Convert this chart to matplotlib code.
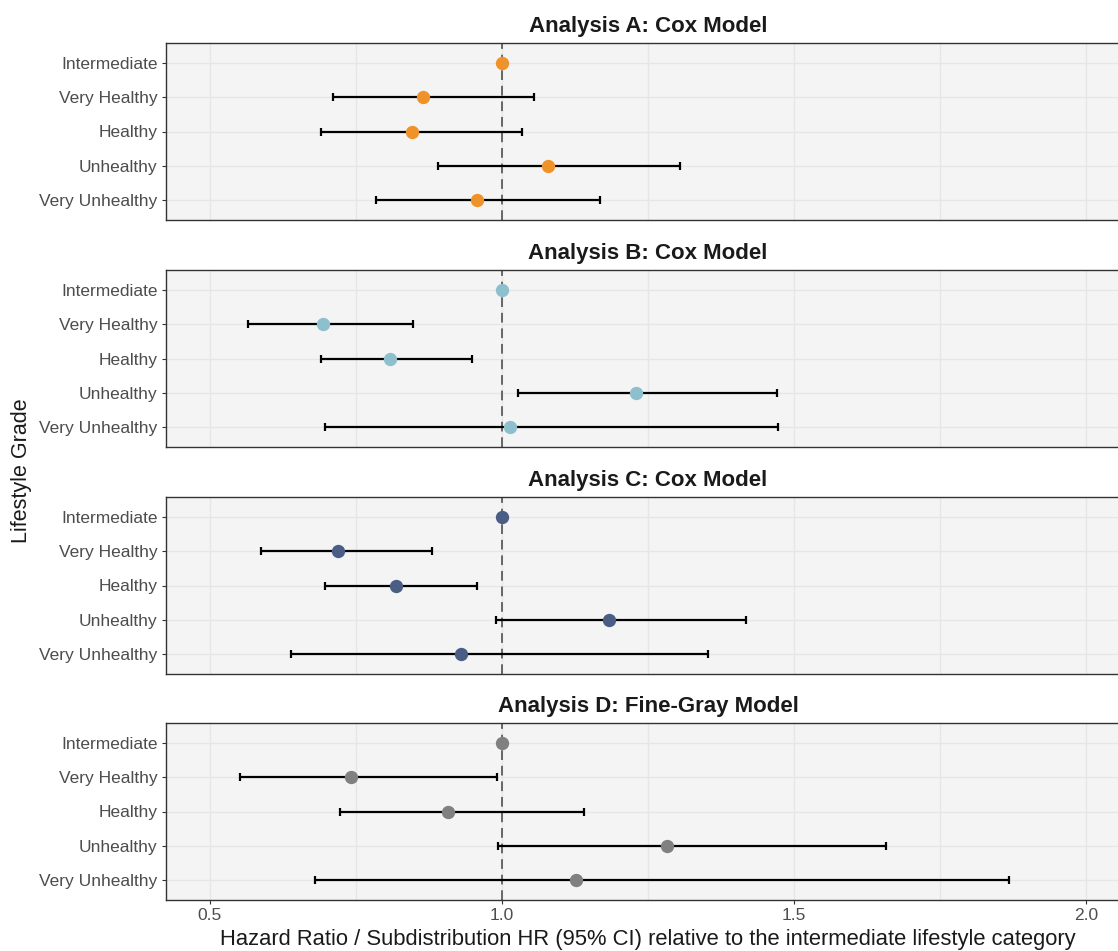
"""Forest plot of lifestyle-grade hazard ratios across four analyses."""
import numpy as np
import matplotlib
matplotlib.use("Agg")
import matplotlib.pyplot as plt

plt.rcParams["font.family"] = ["Liberation Sans", "DejaVu Sans"]

# --- Data ---
CATEGORIES = ["Intermediate", "Very Healthy", "Healthy", "Unhealthy", "Very Unhealthy"]

PANEL_TITLES = [
    "Analysis A: Cox Model",
    "Analysis B: Cox Model",
    "Analysis C: Cox Model",
    "Analysis D: Fine-Gray Model",
]

hr_a = [1.0, 0.865, 0.846, 1.078, 0.957]
lo_a = [np.nan, 0.710, 0.691, 0.891, 0.785]
hi_a = [np.nan, 1.055, 1.035, 1.304, 1.168]

hr_b = [1.0, 0.693, 0.809, 1.229, 1.013]
lo_b = [np.nan, 0.566, 0.690, 1.027, 0.697]
hi_b = [np.nan, 0.847, 0.948, 1.471, 1.473]

hr_c = [1.0, 0.719, 0.818, 1.184, 0.930]
lo_c = [np.nan, 0.588, 0.698, 0.990, 0.639]
hi_c = [np.nan, 0.880, 0.958, 1.417, 1.352]

hr_d = [1.0, 0.741, 0.907, 1.283, 1.127]
lo_d = [np.nan, 0.552, 0.723, 0.993, 0.680]
hi_d = [np.nan, 0.991, 1.141, 1.658, 1.868]

X_TICKS = [0.5, 1.0, 1.5, 2.0]

COLORS = ["#F0922A", "#8DBFCC", "#4A5E85", "#808080"]

W, H = 1118, 951


def draw_panel(ax, title, hr, lo, hi, color, show_x):
    hr = np.array(hr)
    lo = np.array(lo)
    hi = np.array(hi)
    y = np.arange(len(CATEGORIES))[::-1] + 1  # Intermediate on top

    ax.set_facecolor("#F4F4F4")
    ax.axvline(1.0, color="#666666", linestyle=(0, (5, 3)), linewidth=1.4, zorder=2)

    err = np.vstack([hr - lo, hi - hr])
    ax.errorbar(hr, y, xerr=err, fmt="none", ecolor="black", elinewidth=1.6,
                capsize=2.6, capthick=1.6, zorder=3)
    ax.plot(hr, y, "o", color=color, markersize=9.6, markeredgewidth=0, zorder=4)

    ax.set_xlim(0.425, 2.075)
    ax.set_ylim(0.4, 5.6)
    ax.set_yticks(y)
    ax.set_yticklabels(CATEGORIES)
    ax.set_xticks(X_TICKS)
    ax.set_xticks([0.75, 1.25, 1.75], minor=True)
    ax.grid(True, which="both", color="#E6E6E6", linewidth=1.0, zorder=0)
    ax.set_axisbelow(True)

    for s in ax.spines.values():
        s.set_color("#333333")
        s.set_linewidth(1.0)

    ax.tick_params(axis="y", length=3, color="#333333", labelsize=12.5,
                   labelcolor="#4D4D4D", pad=3)
    ax.tick_params(axis="x", which="major", length=3, color="#333333",
                   labelsize=12.5, labelcolor="#4D4D4D", pad=3)
    ax.tick_params(axis="x", which="minor", length=0)
    if not show_x:
        ax.tick_params(axis="x", labelbottom=False, length=0)

    ax.set_title(title, fontsize=16, fontweight="bold", color="#1A1A1A", pad=8)


def main():
    fig = plt.figure(figsize=(W / 100, H / 100), dpi=100)

    left, right = 166, 1130
    tops = [43, 270, 497, 723]
    panel_h = 177

    data = [(hr_a, lo_a, hi_a), (hr_b, lo_b, hi_b),
            (hr_c, lo_c, hi_c), (hr_d, lo_d, hi_d)]

    for i, (title, (hr, lo, hi), color) in enumerate(zip(PANEL_TITLES, data, COLORS)):
        rect = [left / W, 1 - (tops[i] + panel_h) / H, (right - left) / W, panel_h / H]
        ax = fig.add_axes(rect)
        draw_panel(ax, title, hr, lo, hi, color, show_x=(i == 3))
        if i == 3:
            ax.set_xlabel(
                "Hazard Ratio / Subdistribution HR (95% CI) relative to the "
                "intermediate lifestyle category",
                fontsize=15.8, color="#1A1A1A", labelpad=4,
            )

    fig.text(21 / W, 1 - 471 / H, "Lifestyle Grade", rotation=90, ha="center",
             va="center", fontsize=15.5, color="#1A1A1A")

    fig.savefig("out.png", dpi=100, facecolor="white")
    plt.close(fig)


if __name__ == "__main__":
    main()
